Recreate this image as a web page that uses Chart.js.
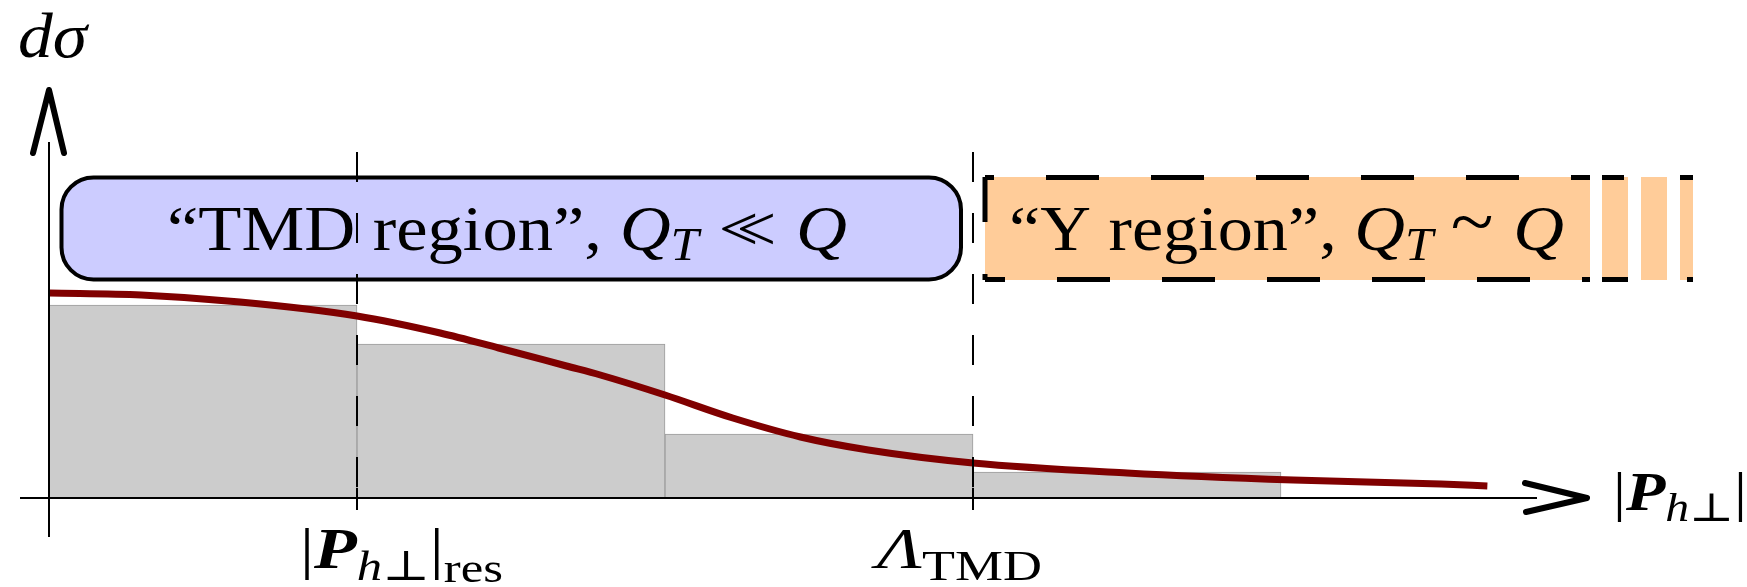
<!DOCTYPE html>
<html>
<head>
<meta charset="utf-8">
<script src="https://cdn.jsdelivr.net/npm/chart.js@4.4.1/dist/chart.umd.min.js"></script>
<style>
  html, body { margin: 0; padding: 0; background: #fff; }
  #wrap { width: 1747px; height: 587px; }
</style>
</head>
<body>
<div id="wrap"><canvas id="chart" width="1747" height="587"></canvas></div>
<script>
// histogram: unit-width bins starting at the origin
const binCenters = [0.5, 1.5, 2.5, 3.5];
const binHeights = [1.93, 1.54, 0.64, 0.26];

// smooth cross-section curve
const curveX = [0, 0.30, 0.62, 1.00, 1.27, 1.46, 1.68, 1.79, 2.00, 2.22, 2.44, 2.66, 3.00, 3.50, 4.04, 4.52, 4.67];
const curveY = [2.05, 2.03, 1.96, 1.82, 1.65, 1.50, 1.32, 1.23, 1.03, 0.80, 0.61, 0.48, 0.35, 0.25, 0.18, 0.14, 0.12];

// ticks on the horizontal axis and their labels (pieces: main / subscript)
const tickValues = [1, 3];
const tickLabels = [['|', 'P', 'h⊥', '|', 'res'], ['Λ', 'TMD']];

// axis titles
const yTitle = ['d', 'σ'];
const xTitle = ['|', 'P', 'h⊥', '|'];

// region boxes: text, Q, subscript, relation, Q
const regionLabels = [
    ['“TMD region”, ', 'Q', 'T', '<<', 'Q'],
    ['“Y region”, ', 'Q', 'T', '~', 'Q']
];

const SERIF = "'Liberation Serif', 'DejaVu Serif', serif";
const rm = px => `${px}px ${SERIF}`;
const it = px => `italic ${px}px ${SERIF}`;
const bi = px => `italic bold ${px}px ${SERIF}`;

// draw a row of [text, font, dy, dx] runs starting at x, stretched to width
function drawRuns(ctx, runs, x, y, width) {
    let w = 0;
    runs.forEach(r => { ctx.font = r[1]; w += ctx.measureText(r[0]).width + (r[3] || 0); });
    const sx = width ? width / w : 1;
    ctx.save();
    ctx.translate(x, y);
    ctx.scale(sx, 1);
    ctx.fillStyle = '#000';
    ctx.textAlign = 'left';
    ctx.textBaseline = 'alphabetic';
    let cx = 0;
    runs.forEach(r => {
        ctx.font = r[1];
        cx += r[3] || 0;
        ctx.fillText(r[0], cx, r[2] || 0);
        cx += ctx.measureText(r[0]).width;
    });
    ctx.restore();
}

// "Q_T rel Q" part of a region label
function mathRuns(lbl) {
    const runs = [[lbl[0], rm(64)], [lbl[1], it(64)], [lbl[2], it(46), 10]];
    if (lbl[3] === '<<') {
        runs.push(['<', rm(64), 0, 18], ['<', rm(64), 0, -20]);
    } else {
        runs.push([lbl[3], rm(72), -4, 16]);
    }
    runs.push([lbl[4], it(64), 0, 18]);
    return runs;
}

function chevron(ctx, pts) {
    ctx.save();
    ctx.strokeStyle = '#000';
    ctx.lineWidth = 6;
    ctx.lineCap = 'round';
    ctx.lineJoin = 'round';
    ctx.beginPath();
    ctx.moveTo(pts[0][0], pts[0][1]);
    ctx.lineTo(pts[1][0], pts[1][1]);
    ctx.lineTo(pts[2][0], pts[2][1]);
    ctx.stroke();
    ctx.restore();
}

function line(ctx, x1, y1, x2, y2, width, dash, offset) {
    ctx.save();
    ctx.strokeStyle = '#000';
    ctx.lineWidth = width;
    ctx.lineCap = 'butt';
    ctx.setLineDash(dash || []);
    ctx.lineDashOffset = offset || 0;
    ctx.beginPath();
    ctx.moveTo(x1, y1);
    ctx.lineTo(x2, y2);
    ctx.stroke();
    ctx.restore();
}

function roundedBox(ctx, x1, y1, x2, y2, r) {
    ctx.beginPath();
    ctx.moveTo(x1 + r, y1);
    ctx.arcTo(x2, y1, x2, y2, r);
    ctx.arcTo(x2, y2, x1, y2, r);
    ctx.arcTo(x1, y2, x1, y1, r);
    ctx.arcTo(x1, y1, x2, y1, r);
    ctx.closePath();
}

const sketchPlugin = {
    id: 'sketch',
    afterDatasetsDraw(chart) {
        const ctx = chart.ctx;
        const xs = chart.scales.x, ys = chart.scales.y;
        const x0 = xs.getPixelForValue(0);
        const y0 = ys.getPixelForValue(0);

        // TMD region box
        ctx.save();
        roundedBox(ctx, 61.5, 177.5, 961, 279.5, 32);
        ctx.fillStyle = '#ccccff';
        ctx.fill();
        ctx.lineWidth = 4;
        ctx.strokeStyle = '#000';
        ctx.stroke();
        ctx.restore();
        drawRuns(ctx, mathRuns(regionLabels[0]), 167, 250, 680);

        // Y region box, dashed and fading out to the right
        ctx.fillStyle = '#ffcc99';
        ctx.fillRect(985, 177, 740, 103);
        line(ctx, 985, 177.5, 1725, 177.5, 5, [53, 52], 44);
        line(ctx, 985, 279.5, 1725, 279.5, 5, [53, 52], 33);
        line(ctx, 985, 177, 985, 280, 5, [53, 52], 8);
        ctx.fillStyle = '#fff';
        [[1590, 1602], [1628, 1641], [1667, 1680], [1693, 1747]].forEach(s => {
            ctx.fillRect(s[0], 170, s[1] - s[0], 116);
        });
        drawRuns(ctx, mathRuns(regionLabels[1]), 1009, 250, 555);

        // dashed markers at the ticks
        tickValues.forEach(v => {
            const px = xs.getPixelForValue(v);
            line(ctx, px, 152, px, y0 - 10, 2, [30, 31], 0);
            line(ctx, px, y0 - 10, px, y0 + 12, 2);
        });

        // axes
        line(ctx, 20, y0, 1537, y0, 2);
        line(ctx, x0, 142, x0, 537, 2);
        chevron(ctx, [[x0 - 16, 153], [x0, 90], [x0 + 15, 153]]);
        chevron(ctx, [[1525, y0 - 15], [1587, y0], [1526, y0 + 14]]);

        // tick labels
        const t1 = tickLabels[0], t2 = tickLabels[1];
        const p1 = xs.getPixelForValue(tickValues[0]);
        drawRuns(ctx, [[t1[0], rm(58)], [t1[1], bi(58)], [t1[2], it(42), 12], [t1[3], rm(58)], [t1[4], rm(42), 14]], p1 - 57, 568, 203);
        const p2 = xs.getPixelForValue(tickValues[1]);
        drawRuns(ctx, [[t2[0], it(58)], [t2[1], rm(42), 12]], p2 - 96, 568, 165);

        // axis titles
        drawRuns(ctx, [[yTitle[0], it(64)], [yTitle[1], it(64)]], 18, 57, 69);
        drawRuns(ctx, [[xTitle[0], rm(54)], [xTitle[1], bi(54)], [xTitle[2], it(40), 11], [xTitle[3], rm(54)]], 1613, 510, 134);
    }
};

new Chart(document.getElementById('chart'), {
    type: 'bar',
    data: {
        datasets: [
            {
                type: 'line',
                data: curveX.map((x, i) => ({ x: x, y: curveY[i] })),
                borderColor: '#800000',
                borderWidth: 7,
                borderCapStyle: 'butt',
                pointRadius: 0,
                cubicInterpolationMode: 'monotone',
                fill: false,
                order: 0
            },
            {
                type: 'bar',
                data: binCenters.map((x, i) => ({ x: x, y: binHeights[i] })),
                backgroundColor: '#cccccc',
                borderColor: '#9c9c9c',
                borderWidth: 1,
                barPercentage: 1,
                categoryPercentage: 1,
                order: 1
            }
        ]
    },
    options: {
        responsive: false,
        animation: false,
        devicePixelRatio: 1,
        layout: { padding: 0 },
        plugins: { legend: { display: false }, tooltip: { enabled: false } },
        scales: {
            x: {
                type: 'linear', min: -0.1591, max: 5.513, offset: false, display: false,
                // unit spacing so that the bins fill their full width
                afterBuildTicks: s => { s.ticks = [0, 1, 2, 3, 4, 5].map(v => ({ value: v })); }
            },
            y: { min: -0.89, max: 4.98, display: false }
        }
    },
    plugins: [sketchPlugin]
});
</script>
</body>
</html>
